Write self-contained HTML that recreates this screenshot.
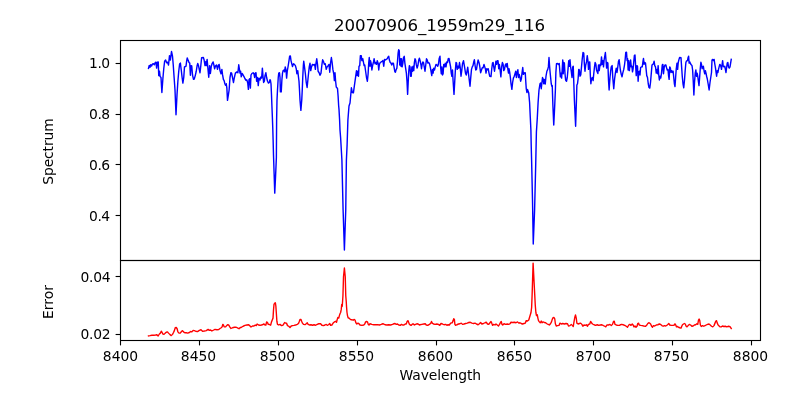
<!DOCTYPE html>
<html><head><meta charset="utf-8"><title>20070906_1959m29_116</title>
<style>html,body{margin:0;padding:0;background:#fff;overflow:hidden}svg{display:block}</style></head>
<body>
<svg width="800" height="400" viewBox="0 0 800 400">
<rect width="800" height="400" fill="#fff"/>
<defs><clipPath id="c1"><rect x="120" y="40" width="640" height="220"/></clipPath><clipPath id="c2"><rect x="120" y="260" width="640" height="80"/></clipPath></defs>
<polyline clip-path="url(#c1)" fill="none" stroke="#0000ff" stroke-width="1.42" stroke-linejoin="round" stroke-linecap="square" points="148.50,68.50 149.25,65.38 150.00,67.25 150.75,64.75 151.62,66.00 152.50,64.00 153.50,63.75 154.38,64.75 155.25,62.50 156.00,62.25 156.62,68.12 157.38,62.25 158.25,62.00 158.75,75.62 159.50,71.25 160.12,76.62 161.00,77.50 161.88,92.50 162.88,78.75 163.75,68.75 164.62,61.25 165.62,60.00 166.62,62.75 167.62,62.25 168.50,65.00 169.50,55.62 170.38,60.00 171.50,51.50 172.50,56.25 173.25,65.00 174.12,77.50 175.00,90.00 176.00,114.75 177.00,95.00 177.88,81.25 178.75,71.25 179.62,64.00 180.38,63.12 181.25,70.00 182.12,77.50 182.88,83.12 183.75,77.50 184.50,66.88 186.00,66.25 186.62,61.25 187.25,57.88 188.25,60.62 189.00,62.50 189.75,63.12 190.38,75.25 191.00,65.62 191.75,66.00 192.50,75.00 193.50,79.38 194.25,79.00 195.25,75.62 196.25,71.25 197.12,65.62 197.75,63.50 198.50,65.62 199.25,69.38 200.00,72.75 200.75,66.25 201.62,57.75 203.38,57.50 204.12,60.00 205.00,65.62 205.88,61.50 206.38,65.62 207.12,59.38 207.88,68.12 208.75,77.25 209.62,65.62 210.38,73.50 211.25,66.50 212.12,63.50 213.12,61.88 213.88,65.00 214.62,68.75 215.50,66.00 216.50,65.00 217.50,69.38 218.38,65.25 219.12,64.38 220.00,70.62 221.00,73.75 221.88,69.38 222.50,74.38 223.38,79.38 224.12,80.62 224.88,83.75 225.50,85.25 226.25,83.75 226.88,88.12 227.50,100.38 228.38,95.00 229.12,90.00 230.00,77.50 230.88,72.75 231.62,73.12 232.50,77.50 233.50,82.50 234.38,77.50 235.38,73.12 236.88,71.88 237.88,72.75 238.75,64.75 240.00,73.12 240.00,73.12 240.62,71.25 241.25,76.88 242.12,73.50 243.12,75.00 244.12,76.88 245.00,78.75 246.00,80.25 246.88,80.00 247.75,83.12 248.38,89.38 249.00,79.75 249.75,78.75 250.38,88.12 251.00,75.00 251.88,73.50 253.12,72.75 254.00,74.00 254.62,77.50 255.25,73.12 256.00,72.75 256.62,81.25 257.50,77.50 258.25,85.62 259.00,78.12 260.00,80.00 260.88,76.88 261.62,78.12 262.38,68.12 263.00,76.25 263.62,82.50 264.38,81.25 265.00,75.62 265.88,72.75 266.62,77.50 267.50,81.25 268.50,83.12 269.25,82.50 270.00,79.75 270.38,80.00 271.00,83.75 271.50,95.00 271.88,105.00 272.38,117.50 272.75,127.50 273.12,140.00 273.50,155.00 274.12,173.75 274.75,193.12 275.62,175.00 276.38,157.50 276.62,120.00 277.00,100.00 277.50,90.00 277.88,83.75 278.25,77.50 278.75,73.12 279.50,72.75 280.00,77.50 280.38,91.88 281.25,91.88 281.88,80.00 282.50,73.12 283.12,70.62 284.00,70.00 284.62,71.88 285.25,66.88 286.00,70.00 286.62,78.12 287.25,71.25 288.12,66.25 289.00,60.62 289.62,56.25 290.38,56.00 291.00,60.62 291.62,63.12 292.50,66.50 293.50,63.75 294.38,64.38 295.38,65.62 296.25,68.75 296.88,73.75 297.75,70.62 298.38,76.25 299.00,81.25 299.50,90.00 300.00,100.00 300.88,110.38 301.75,100.00 302.25,90.00 302.75,77.50 303.38,65.00 303.75,61.25 304.50,66.88 305.38,73.75 306.25,82.50 307.12,87.50 307.88,80.00 308.50,73.75 309.25,66.88 310.00,63.12 310.75,70.62 311.50,66.88 312.50,64.38 313.75,65.00 314.62,64.38 315.38,69.38 316.00,63.12 316.75,58.75 317.50,64.38 318.12,71.25 319.12,72.75 320.00,75.25 321.00,73.12 321.88,65.00 322.62,59.75 323.50,61.50 324.38,64.38 325.25,63.75 326.25,69.38 327.12,66.88 328.12,65.62 329.00,64.38 329.75,72.25 330.62,62.50 331.38,57.50 332.12,62.50 332.88,69.38 333.75,73.75 334.38,80.62 335.00,72.75 335.62,81.25 336.25,87.00 337.50,88.50 338.10,96.00 338.60,105.00 339.00,109.40 339.60,120.00 340.00,130.00 340.60,137.50 341.90,160.00 343.10,210.00 344.40,250.00 345.75,210.00 346.40,160.00 347.10,145.00 347.90,120.00 348.10,117.50 349.00,106.00 350.00,103.00 350.75,95.00 351.40,87.80 352.30,92.50 353.40,92.80 354.40,85.60 354.75,83.12 355.62,76.88 356.50,70.62 357.12,75.62 357.88,71.25 358.50,76.25 359.00,66.25 359.75,65.62 360.38,55.62 361.25,55.62 361.88,60.62 362.75,58.75 363.38,61.88 364.12,65.62 364.75,65.00 365.62,71.25 366.50,77.50 367.38,81.25 368.12,73.75 368.75,62.50 369.25,57.50 370.00,66.25 370.50,60.62 371.12,63.12 371.88,70.00 372.75,65.00 373.50,61.88 374.12,58.75 375.00,63.75 375.88,62.50 376.62,64.38 377.25,60.62 378.12,63.12 378.75,70.00 379.38,64.38 380.25,62.50 381.25,61.88 382.12,61.25 382.88,60.62 383.75,66.25 384.50,59.38 385.38,60.00 386.25,59.38 387.25,58.75 388.12,56.88 388.75,56.25 389.38,60.00 390.25,62.50 391.00,63.12 391.75,65.00 392.50,63.12 393.38,63.12 394.00,66.88 394.75,71.25 395.38,72.25 396.00,70.00 396.88,68.12 397.50,61.25 398.12,53.12 398.62,49.75 399.25,50.62 399.75,65.00 400.38,58.75 401.00,66.25 401.50,58.75 402.12,66.88 402.88,63.12 403.50,57.50 404.25,56.25 404.88,63.12 405.62,68.12 406.38,73.12 407.00,81.25 407.62,94.38 408.25,81.25 408.75,71.25 409.38,65.62 410.00,66.88 410.62,76.25 411.25,76.25 411.88,66.88 412.50,71.25 413.12,66.25 413.75,70.62 414.38,62.50 415.00,58.75 415.62,60.00 416.25,64.38 417.12,68.12 417.88,65.62 418.75,60.00 419.38,58.12 420.25,61.25 421.00,65.00 421.50,68.75 422.12,64.38 422.88,61.88 423.50,62.50 424.12,66.25 425.00,71.25 425.75,65.00 426.50,58.75 427.25,60.00 427.88,63.12 428.75,62.50 429.50,63.75 430.25,66.88 431.00,71.25 431.75,75.62 432.50,69.38 433.12,73.12 433.75,68.12 434.50,70.00 435.25,66.88 436.00,64.38 436.88,65.00 437.75,66.25 438.50,63.75 439.12,58.75 440.00,56.25 440.00,56.88 440.62,66.88 441.25,73.75 441.88,66.88 442.50,75.00 443.12,73.75 443.75,64.38 444.62,66.88 445.25,63.12 446.00,66.88 446.75,61.88 447.50,62.50 448.25,58.75 449.00,58.50 449.75,62.50 450.62,66.88 451.25,73.12 451.88,76.25 452.50,70.00 453.12,81.25 454.00,94.38 454.75,81.25 455.38,70.00 456.00,62.50 456.62,63.12 457.25,69.38 458.00,66.25 458.75,68.12 459.50,62.50 460.25,67.50 461.00,76.25 461.75,70.62 462.50,63.75 463.50,60.62 464.12,64.38 464.75,68.12 465.50,73.12 466.25,75.00 467.00,71.25 467.75,67.25 468.50,73.75 469.25,80.00 470.00,86.25 470.75,77.50 471.50,69.38 472.25,66.88 473.00,65.62 473.75,61.88 474.38,59.75 475.00,65.00 475.75,70.00 476.50,69.38 477.25,64.38 478.12,60.00 479.00,62.50 479.75,66.25 480.62,72.75 481.50,70.00 482.25,67.75 483.12,67.75 484.00,64.38 484.75,66.88 485.50,69.38 486.00,73.12 486.75,68.75 487.50,69.75 488.25,68.75 489.00,73.12 489.75,76.25 491.00,76.50 491.75,68.75 492.50,63.12 493.12,62.50 493.75,66.88 494.50,71.25 495.25,66.25 495.88,61.25 496.62,64.38 497.25,60.62 498.00,60.62 498.75,68.75 499.38,64.38 500.12,70.00 500.88,76.88 501.62,66.88 502.38,62.50 503.12,64.38 503.75,70.62 504.50,69.38 505.25,65.00 506.00,63.75 506.62,66.88 507.25,63.50 507.88,69.38 508.50,73.12 509.00,68.75 509.75,72.75 510.38,77.50 511.00,83.75 511.88,89.38 512.62,82.50 513.38,78.12 514.25,76.25 515.00,73.75 515.75,71.25 516.38,77.50 517.12,72.50 517.88,69.75 518.50,77.50 519.25,74.38 520.00,77.50 520.62,81.25 521.38,78.75 522.00,73.12 522.75,67.50 523.38,74.38 524.00,72.75 524.62,73.50 525.25,72.75 525.75,81.25 526.25,88.75 526.90,92.50 527.50,89.40 528.75,93.10 529.60,102.50 530.30,117.50 530.90,130.00 531.20,145.00 531.60,160.00 532.50,200.00 533.25,244.00 534.60,210.00 535.70,165.00 536.40,132.00 537.30,118.00 538.10,102.50 539.00,90.00 540.00,83.75 540.62,83.12 541.25,88.75 541.88,83.12 542.50,77.50 543.12,78.75 543.75,83.75 544.38,79.38 545.25,84.00 546.00,76.25 546.88,71.25 547.75,69.38 548.38,66.88 549.00,57.50 549.50,65.00 550.00,71.25 550.62,77.50 551.25,83.75 551.88,86.25 552.25,85.62 552.88,105.00 553.75,125.00 554.75,105.00 555.38,90.00 555.88,72.50 556.50,63.75 557.50,63.50 558.50,64.38 559.25,63.50 559.75,70.00 560.38,76.88 561.00,73.12 561.62,78.12 562.25,68.75 562.75,60.00 563.25,73.75 563.75,62.50 564.38,63.12 565.00,73.75 565.62,80.00 566.50,81.25 567.25,77.50 568.00,69.38 568.75,60.62 569.38,66.25 570.00,59.75 570.62,66.88 571.25,71.25 572.00,77.50 572.75,66.88 573.25,66.25 573.75,81.25 574.38,100.00 575.62,126.25 576.50,98.75 576.88,85.00 577.50,83.75 578.12,78.75 578.75,69.38 579.38,70.00 580.00,76.25 580.75,75.00 581.50,66.88 582.25,58.75 583.00,52.50 583.75,53.12 584.38,64.38 585.00,71.25 585.62,65.62 586.50,61.88 587.25,55.62 588.00,61.25 588.50,69.38 589.12,62.50 589.75,61.88 590.38,76.25 590.88,83.75 591.50,78.75 592.25,77.50 593.12,80.62 593.75,73.75 594.50,66.88 595.12,62.50 595.88,64.38 596.50,70.00 597.25,71.88 597.88,73.50 598.50,65.00 599.25,70.62 600.00,64.38 600.75,65.62 601.50,56.88 602.25,64.38 602.88,60.62 603.50,66.88 604.12,60.00 604.75,56.25 605.38,52.50 606.00,60.00 606.62,68.12 607.25,62.50 607.88,63.12 608.50,80.00 609.12,90.00 610.00,77.50 610.62,71.25 611.25,66.88 612.12,65.62 612.75,77.50 613.75,88.75 614.62,78.75 615.38,73.12 616.25,68.12 617.00,72.50 617.75,67.25 618.50,61.25 619.12,59.75 619.75,65.00 620.38,70.00 621.25,74.38 622.00,76.88 622.75,73.12 623.75,69.38 624.50,65.00 625.12,60.00 625.75,52.50 626.50,52.25 627.12,60.62 627.62,58.75 628.12,70.00 628.75,60.62 629.38,70.62 630.00,65.00 630.62,60.00 631.25,66.88 631.88,66.25 632.50,71.88 633.12,68.75 633.75,61.88 634.38,55.62 635.00,55.00 635.62,65.62 636.25,75.62 636.88,65.62 637.50,66.25 638.12,81.25 638.75,71.88 639.38,71.25 640.00,75.00 640.62,67.50 641.50,66.88 642.25,66.88 643.00,61.25 643.50,58.50 644.12,64.38 644.75,62.50 645.50,63.12 646.00,68.12 646.75,75.62 647.50,77.50 648.25,83.75 649.00,87.50 649.75,88.12 650.50,82.50 651.25,73.75 652.00,65.00 652.75,64.38 653.50,63.75 654.12,61.25 654.75,65.62 655.50,66.88 656.25,73.12 657.00,69.38 657.62,73.75 658.12,65.62 658.75,75.00 659.38,80.00 660.00,76.25 660.75,78.12 661.50,73.12 662.25,65.00 662.88,64.38 663.50,73.75 664.25,66.88 665.00,65.00 665.88,65.00 666.62,68.12 667.25,70.00 668.00,69.38 668.62,76.25 669.12,79.38 669.75,66.88 670.38,68.12 671.00,72.50 671.75,70.62 672.50,72.50 673.12,71.25 673.75,77.50 674.38,83.75 675.00,86.50 675.62,77.50 676.25,68.75 677.00,63.12 677.62,69.38 678.25,62.50 679.00,59.38 679.62,57.50 681.00,57.75 681.62,66.88 682.25,76.25 683.00,83.75 683.75,87.75 684.50,80.00 685.12,71.25 685.88,62.50 686.50,61.00 687.50,60.62 688.12,57.50 688.62,56.25 689.12,63.12 689.75,61.88 690.50,63.75 691.25,64.75 692.00,65.62 692.62,70.00 693.25,81.25 693.88,95.00 694.50,82.50 695.25,73.12 695.88,70.00 696.50,76.25 697.12,73.12 697.75,76.25 698.38,81.25 699.00,85.62 699.62,77.50 700.25,68.75 700.88,62.25 701.50,64.38 702.12,68.75 702.75,66.88 703.38,66.25 704.12,71.25 704.75,73.75 705.38,70.62 706.00,73.12 706.62,76.25 707.25,78.75 708.12,83.75 709.12,90.00 710.00,82.50 710.75,77.50 711.50,72.50 712.00,60.00 712.75,59.38 713.50,60.62 714.12,59.38 714.75,63.75 715.50,68.12 716.00,71.88 716.62,76.25 717.25,70.62 717.88,72.50 718.50,69.38 719.12,66.88 719.75,64.38 720.38,65.00 721.00,66.88 721.50,69.38 722.12,64.38 722.62,60.62 723.25,66.25 724.00,66.88 724.75,66.25 725.38,69.38 726.00,72.50 726.62,67.50 727.25,63.12 727.88,62.50 728.50,66.88 729.25,68.12 730.00,66.88 730.62,63.12 731.25,59.38"/>
<polyline clip-path="url(#c2)" fill="none" stroke="#ff0000" stroke-width="1.39" stroke-linejoin="round" stroke-linecap="square" points="148.50,335.88 150.00,335.62 151.88,335.25 153.75,335.25 155.62,335.00 156.88,334.75 158.12,336.00 159.38,334.00 160.38,333.12 161.25,331.25 162.12,332.50 162.88,334.00 164.00,334.38 165.25,333.12 166.25,332.25 167.50,331.88 168.50,333.12 169.75,334.38 171.25,335.62 172.50,334.38 173.50,332.50 174.38,330.62 175.25,327.75 176.25,327.50 177.12,328.75 177.88,331.88 179.00,333.12 180.25,333.12 181.50,331.50 182.50,330.62 183.50,331.88 184.75,332.75 186.25,332.75 187.75,333.12 189.38,332.50 190.62,331.50 191.88,331.88 193.12,330.38 194.38,330.62 195.62,331.25 197.50,331.62 199.38,330.38 201.00,329.75 202.50,331.25 204.38,331.00 206.25,330.62 208.12,329.38 209.38,330.38 210.62,330.00 211.88,331.00 213.75,330.00 215.00,329.38 216.88,329.75 218.75,329.50 220.00,328.50 221.25,327.75 222.12,326.88 222.75,324.38 223.50,325.00 224.12,326.88 225.62,326.88 226.62,325.62 227.50,324.75 228.75,325.00 229.75,326.88 231.00,328.50 232.50,327.75 234.38,327.25 236.25,327.25 237.88,328.12 239.00,328.75 240.00,327.75 241.50,327.25 243.12,326.25 245.00,325.38 246.88,325.00 248.75,324.75 250.00,326.00 251.00,327.00 252.50,326.00 254.00,326.00 255.25,325.00 256.25,325.62 257.12,324.00 258.50,325.00 260.00,325.25 261.50,325.00 262.88,324.50 264.00,324.00 265.00,325.00 265.88,325.00 266.62,321.88 267.50,322.50 268.25,324.38 269.38,324.50 270.62,325.25 271.50,321.88 272.25,320.00 273.00,318.12 273.50,310.00 274.00,304.38 274.75,303.12 275.38,302.75 275.88,306.25 276.38,313.75 276.88,321.25 277.50,324.38 278.75,325.00 280.00,324.38 281.50,325.62 282.75,325.38 283.75,324.00 284.62,322.50 285.62,323.12 286.50,323.12 287.50,325.62 288.75,326.25 290.00,327.50 291.25,326.00 292.50,325.62 294.00,325.38 295.62,325.00 297.25,324.38 298.50,323.50 299.38,321.25 300.00,319.38 300.88,319.38 301.62,321.25 302.50,323.12 303.50,324.38 305.00,324.62 306.25,323.75 307.25,322.75 308.12,324.38 309.38,325.00 311.00,324.75 312.50,325.25 314.00,324.75 315.62,325.25 317.25,324.38 318.75,323.75 320.62,323.75 321.88,325.25 323.50,325.62 325.00,325.00 326.25,324.38 327.25,325.38 328.50,324.75 329.75,323.50 330.62,325.38 331.88,325.00 333.12,323.12 334.38,321.88 335.62,321.25 336.50,322.25 337.25,319.38 337.88,317.50 338.75,318.12 339.38,315.62 340.00,313.75 340.62,312.50 341.25,309.40 341.75,304.40 342.25,306.25 342.75,298.75 342.95,295.50 343.50,276.75 344.40,268.00 345.25,276.75 345.75,295.50 346.20,301.00 346.60,307.50 347.00,312.50 347.50,315.60 348.12,317.75 349.00,318.12 350.00,319.00 351.00,319.75 352.25,319.75 353.12,320.25 354.00,319.38 355.00,320.00 355.88,322.75 356.88,324.00 357.75,323.12 358.75,323.50 360.00,325.00 361.88,325.38 363.75,325.00 364.75,324.00 365.62,321.88 366.50,321.50 367.50,321.88 368.25,324.38 369.00,325.00 370.00,323.75 371.88,324.38 373.75,324.75 375.62,324.75 377.50,324.62 379.38,325.00 381.25,324.38 382.50,323.75 383.75,324.00 385.00,324.75 386.88,325.00 388.75,324.75 390.62,325.00 392.50,324.38 394.00,323.75 395.00,323.50 396.25,324.38 397.50,324.00 398.75,325.00 400.25,325.38 401.50,324.38 402.50,325.00 404.00,325.00 405.25,324.00 406.25,324.00 407.12,321.50 407.88,320.62 408.50,321.88 409.25,324.00 410.25,325.00 411.25,325.38 412.50,324.00 413.50,324.00 414.38,325.00 415.62,324.38 416.88,323.75 418.12,324.00 419.38,325.00 420.00,324.75 421.88,324.38 423.75,324.00 425.25,323.75 426.25,325.00 427.75,325.38 429.38,324.38 430.62,323.50 431.50,321.50 432.25,323.12 433.50,324.00 435.00,324.38 436.88,324.00 438.50,324.38 439.75,325.38 441.00,323.50 442.50,324.00 444.00,324.75 445.62,324.38 446.88,325.25 448.12,324.75 449.38,325.00 450.62,323.12 452.25,322.75 453.12,320.62 453.75,318.75 454.38,319.38 454.88,324.38 455.62,325.38 456.88,324.75 458.50,324.00 460.00,323.75 461.25,323.12 462.50,324.38 464.00,324.00 465.62,323.50 467.25,323.12 468.75,322.50 470.25,322.25 471.88,323.12 473.50,323.50 475.00,323.12 476.50,324.00 478.12,324.75 479.38,323.75 480.62,322.50 481.88,324.00 483.50,323.50 485.00,322.75 486.25,322.25 487.50,324.00 488.75,324.38 490.00,322.75 491.00,321.50 491.75,323.12 492.50,325.38 493.75,324.38 495.00,325.00 496.00,324.00 497.25,325.00 498.50,326.00 499.50,324.38 500.50,322.50 501.25,321.50 502.00,324.38 502.75,325.00 504.00,323.75 505.62,324.38 507.25,324.00 508.75,324.38 510.00,323.75 511.00,322.25 512.50,322.50 514.38,322.25 516.00,322.75 517.50,321.88 518.75,323.12 520.00,322.75 521.25,323.50 522.50,324.00 524.00,323.50 525.25,323.12 526.25,320.62 527.50,321.00 528.75,320.00 529.50,317.50 530.25,315.00 531.00,312.50 531.62,307.50 532.12,295.00 533.10,263.10 534.75,295.00 535.25,305.00 535.88,312.50 536.50,315.62 537.25,314.75 537.88,318.12 538.50,320.62 539.38,321.88 540.25,322.75 541.25,321.00 542.00,322.75 543.12,321.88 544.38,322.50 545.62,322.75 546.88,323.75 548.12,324.38 549.38,325.00 550.62,323.50 551.50,321.88 552.25,319.38 553.00,317.75 554.00,317.50 554.75,318.75 555.38,323.75 556.25,326.00 557.50,325.62 559.00,325.38 560.00,323.12 561.25,324.00 562.75,323.50 564.38,324.00 566.00,323.50 567.50,323.75 568.50,326.00 570.00,325.62 571.25,324.38 572.25,325.38 573.25,326.50 574.00,321.88 574.75,317.50 575.50,315.00 576.25,318.12 576.88,323.12 578.12,324.00 579.38,323.50 580.62,323.12 581.88,324.38 582.88,326.25 584.00,325.00 585.25,325.38 586.50,324.75 587.50,326.25 588.50,324.38 589.75,324.00 590.62,321.50 591.50,322.75 592.50,324.00 594.00,324.75 595.62,325.38 597.25,324.75 598.75,325.38 600.25,325.00 601.88,324.75 603.50,325.62 604.75,326.25 605.75,326.88 606.88,325.00 608.50,325.00 610.00,324.38 611.25,325.62 612.50,324.38 613.50,321.50 614.25,321.25 615.00,324.38 616.25,325.00 617.75,325.38 619.38,325.38 620.00,325.00 621.50,324.38 623.12,324.75 624.75,325.38 626.25,326.25 627.50,327.25 628.75,325.00 629.75,324.38 631.00,325.38 632.25,324.00 633.12,325.00 634.00,326.88 635.00,326.00 636.00,327.25 637.00,326.25 637.75,323.50 638.50,323.12 639.25,325.00 640.62,325.38 642.25,325.62 643.75,326.00 645.62,326.25 646.88,325.00 647.75,323.50 648.75,322.75 649.75,323.12 650.62,324.00 651.50,326.00 652.50,327.25 653.50,325.62 654.75,326.00 656.25,325.00 657.75,324.75 659.38,324.00 660.62,324.38 661.88,325.62 663.12,326.25 664.38,325.62 665.62,326.00 666.88,325.38 667.88,324.38 668.75,323.50 669.75,325.00 671.25,325.38 673.12,325.38 674.38,325.00 675.00,323.75 675.75,325.00 676.50,326.88 677.50,326.50 678.50,327.25 679.75,327.75 681.00,328.12 681.75,326.25 682.50,324.75 683.50,324.00 684.38,323.50 685.25,324.00 686.00,326.00 687.00,326.88 688.12,325.62 689.38,324.38 690.62,325.00 691.88,326.25 693.12,326.00 694.38,325.00 695.62,324.75 696.88,323.75 697.75,324.38 698.50,320.00 699.12,319.00 699.75,320.62 700.38,325.00 701.25,326.50 702.50,325.62 703.75,326.25 705.00,325.62 706.25,325.00 707.50,324.38 709.00,324.00 710.25,325.00 711.50,326.25 712.75,326.88 714.00,325.62 715.00,323.12 715.75,321.25 716.50,320.62 717.25,323.12 718.12,325.00 719.38,326.25 720.00,326.88 721.25,326.88 722.50,326.00 723.75,326.50 725.25,326.25 726.88,326.88 728.12,326.25 729.38,326.50 730.25,326.88 731.25,328.50"/>
<g fill="none" stroke="#000" stroke-width="1.11" stroke-linecap="butt" stroke-linejoin="miter">
<rect x="120.5" y="40.5" width="640" height="220"/>
<rect x="120.5" y="260.5" width="640" height="80"/>
<line x1="120.5" y1="340.5" x2="120.5" y2="345.4"/>
<line x1="199.5" y1="340.5" x2="199.5" y2="345.4"/>
<line x1="278.5" y1="340.5" x2="278.5" y2="345.4"/>
<line x1="357.5" y1="340.5" x2="357.5" y2="345.4"/>
<line x1="436.5" y1="340.5" x2="436.5" y2="345.4"/>
<line x1="514.5" y1="340.5" x2="514.5" y2="345.4"/>
<line x1="593.5" y1="340.5" x2="593.5" y2="345.4"/>
<line x1="672.5" y1="340.5" x2="672.5" y2="345.4"/>
<line x1="751.5" y1="340.5" x2="751.5" y2="345.4"/>
<line x1="115.6" y1="63.5" x2="120.5" y2="63.5"/>
<line x1="115.6" y1="114.5" x2="120.5" y2="114.5"/>
<line x1="115.6" y1="164.5" x2="120.5" y2="164.5"/>
<line x1="115.6" y1="215.5" x2="120.5" y2="215.5"/>
<line x1="115.6" y1="276.5" x2="120.5" y2="276.5"/>
<line x1="115.6" y1="334.5" x2="120.5" y2="334.5"/>
</g>
<g font-family="'DejaVu Sans', 'Liberation Sans', sans-serif" font-size="13.89px" fill="#000">
<text x="120.5" y="360.6" text-anchor="middle">8400</text>
<text x="198.5" y="360.6" text-anchor="middle">8450</text>
<text x="277.5" y="360.6" text-anchor="middle">8500</text>
<text x="356.5" y="360.6" text-anchor="middle">8550</text>
<text x="435.5" y="360.6" text-anchor="middle">8600</text>
<text x="514.5" y="360.6" text-anchor="middle">8650</text>
<text x="593.5" y="360.6" text-anchor="middle">8700</text>
<text x="671.5" y="360.6" text-anchor="middle">8750</text>
<text x="750.5" y="360.6" text-anchor="middle">8800</text>
<text x="110.2" y="67.75" text-anchor="end" textLength="21.1" lengthAdjust="spacing">1.0</text>
<text x="110.2" y="118.75" text-anchor="end" textLength="21.1" lengthAdjust="spacing">0.8</text>
<text x="110.2" y="169.75" text-anchor="end" textLength="21.1" lengthAdjust="spacing">0.6</text>
<text x="110.2" y="220.75" text-anchor="end" textLength="21.1" lengthAdjust="spacing">0.4</text>
<text x="110.7" y="281.6" text-anchor="end" textLength="30.3" lengthAdjust="spacing">0.04</text>
<text x="110.7" y="338.75" text-anchor="end" textLength="30.3" lengthAdjust="spacing">0.02</text>
<text x="440.3" y="379.5" text-anchor="middle" textLength="81.7" lengthAdjust="spacing">Wavelength</text>
<text transform="translate(52.5,151.5) rotate(-90)" text-anchor="middle" textLength="66.4" lengthAdjust="spacing">Spectrum</text>
<text transform="translate(52.5,302) rotate(-90)" text-anchor="middle">Error</text>
<text x="439.5" y="31.3" text-anchor="middle" font-size="16.67px" textLength="211.2" lengthAdjust="spacing">20070906_1959m29_116</text>
</g>
</svg>
</body></html>
